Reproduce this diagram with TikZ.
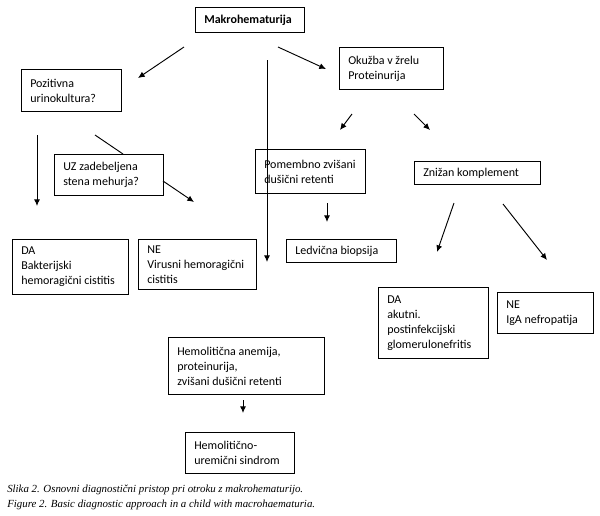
\documentclass[tikz,border=0pt]{standalone}
\usepackage{fontspec}
\setmainfont{Carlito}
\newfontfamily\capfont{Liberation Serif}
\usetikzlibrary{arrows.meta}
\tikzset{
  box/.style={draw, line width=0.8pt, rectangle, inner sep=0pt},
  txt/.style={align=left, inner sep=0pt, font=\fontsize{9}{11.25}\selectfont},
  arr/.style={line width=0.7pt, -{Latex[length=5pt,width=4.5pt]}},
  ln/.style={line width=0.7pt},
  captxt/.style={anchor=west, inner sep=0pt, font=\capfont\itshape\fontsize{8.15}{9}\selectfont}
}
\newcommand{\flowbox}[6]{%
  \node[box,minimum width=#4*0.75pt,minimum height=#5*0.75pt,anchor=north west] (#1) at (#2,#3) {};
  \node[txt,anchor=west] (#1-t) at ([xshift=9*0.75pt]#1.west) {#6};}
\begin{document}
\begin{tikzpicture}[x=0.75pt,y=-0.75pt]
\fill[white] (0,0) rectangle (600,515);
\useasboundingbox (0,0) rectangle (600,515);
\flowbox{makro}{195}{7}{109}{25}{\textbf{Makrohematurija}}
\flowbox{poz}{21}{69}{100}{42}{Pozitivna\\urinokultura?}
\flowbox{uz}{54}{154}{109}{41}{UZ zadebeljena\\stena mehurja?}
\flowbox{pom}{255}{149}{110}{44}{Pomembno zvišani\\dušični retenti}
\flowbox{oku}{339}{47}{104}{42}{Okužba v žrelu\\Proteinurija}
\flowbox{zni}{414}{161}{126}{23}{Znižan komplement}
\flowbox{dab}{12}{239}{116}{55}{DA\\Bakterijski\\hemoragični cistitis}
\flowbox{nev}{138}{239}{118}{50}{NE\\Virusni hemoragični\\cistitis}
\flowbox{led}{286}{239}{110}{23}{Ledvična biopsija}
\flowbox{daa}{378}{287}{110}{71}{DA\\akutni.\\postinfekcijski\\glomerulonefritis}
\flowbox{nei}{497}{292}{96}{41}{NE\\IgA nefropatija}
\flowbox{hem}{168}{337}{156}{57}{Hemolitična anemija,\\proteinurija,\\zvišani dušični retenti}
\flowbox{hus}{185}{432}{109}{41}{Hemolitično-\\uremični sindrom}
% connector endpoints
\coordinate (a1s) at (184,47); \coordinate (a1e) at (138,78);
\coordinate (a2s) at (278,47); \coordinate (a2e) at (326,69);
\coordinate (a3s) at (267,60); \coordinate (a3e) at (267,262);
\coordinate (a4s) at (37,135); \coordinate (a4e) at (37,206);
\coordinate (l5s) at (95,135); \coordinate (l5e) at (123,154);
\coordinate (a6s) at (163,181); \coordinate (a6e) at (194,202);
\coordinate (a7s) at (352,114); \coordinate (a7e) at (340,130);
\coordinate (a8s) at (414,114); \coordinate (a8e) at (430,130);
\coordinate (a9s) at (327,203); \coordinate (a9e) at (327,222);
\coordinate (a10s) at (454,203); \coordinate (a10e) at (437,252);
\coordinate (a11s) at (503,204); \coordinate (a11e) at (547,260);
\coordinate (a12s) at (243,400); \coordinate (a12e) at (243,413);
\draw[arr] (a1s) -- (a1e);
\draw[arr] (a2s) -- (a2e);
\draw[arr] (a3s) -- (a3e);
\draw[arr] (a4s) -- (a4e);
\draw[ln] (l5s) -- (l5e);
\draw[arr] (a6s) -- (a6e);
\draw[arr] (a7s) -- (a7e);
\draw[arr] (a8s) -- (a8e);
\draw[arr] (a9s) -- (a9e);
\draw[arr] (a10s) -- (a10e);
\draw[arr] (a11s) -- (a11e);
\draw[arr] (a12s) -- (a12e);
\node[captxt] (cap1) at (7,490) {Slika 2. Osnovni diagnostični pristop pri otroku z makrohematurijo.};
\node[captxt] (cap2) at (7,505) {Figure 2. Basic diagnostic approach in a child with macrohaematuria.};
\end{tikzpicture}
\end{document}
